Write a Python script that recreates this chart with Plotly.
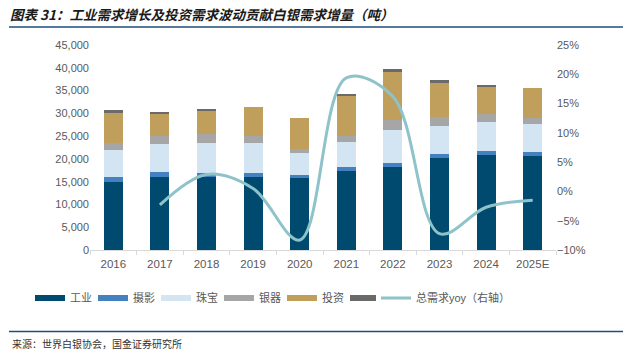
import plotly.graph_objects as go

years = ["2016", "2017", "2018", "2019", "2020", "2021", "2022", "2023", "2024", "2025E"]
industrial = [15000, 16100, 16000, 16000, 15700, 17300, 18200, 20200, 20900, 20700]
photography = [1000, 1100, 1000, 1000, 800, 900, 900, 900, 900, 800]
jewelry = [5900, 6100, 6400, 6400, 4700, 5600, 7300, 6200, 6400, 6100]
silverware = [1600, 1800, 2000, 1700, 1000, 1300, 2200, 1900, 1600, 1400]
investment = [6650, 4900, 5200, 6200, 6700, 8900, 10500, 7400, 6100, 6600]
hedging = [550, 300, 400, 0, 0, 300, 700, 700, 300, 0]
yoy_years = ["2017", "2018", "2019", "2020", "2021", "2022", "2023", "2024", "2025E"]
yoy = [-2.3, 2.9, 0.5, -8.3, 19.4, 16.2, -7.2, -2.7, -1.5]

series = [
    ("工业", industrial, "#004a6f"),
    ("摄影", photography, "#4381c1"),
    ("珠宝", jewelry, "#d3e4f3"),
    ("银器", silverware, "#a6a6a6"),
    ("投资", investment, "#c09e5b"),
    ("对冲", hedging, "#6a6a6a"),
]
line_color = "#8ec3ca"

W, H = 633, 353
L, R, T, B = 90, 556, 45, 250
def px(x):
    return (x - L) / (R - L)
def py(y):
    return (B - y) / (B - T)

fig = go.Figure()
for name, vals, col in series:
    fig.add_trace(go.Bar(x=years, y=vals, name=name, marker_color=col,
                         marker_line_width=0, showlegend=False))
    fig.add_trace(go.Scatter(x=[None], y=[None], mode="lines", name=name,
                             line=dict(color=col, width=6)))
fig.add_trace(go.Scatter(x=yoy_years, y=yoy, name="总需求yoy（右轴）", mode="lines",
                         yaxis="y2", legend="legend2",
                         line=dict(color=line_color, width=3, shape="spline", smoothing=1.0)))

tickfont = dict(family="Liberation Sans, Arial, Noto Sans CJK SC", size=11, color="#595959")
legfont = dict(family="Liberation Sans, Noto Sans CJK SC", size=11, color="#595959")
fig.update_layout(
    width=W, height=H,
    margin=dict(l=L, r=W - R, t=T, b=H - B),
    barmode="stack", bargap=0.59,
    plot_bgcolor="white", paper_bgcolor="white",
    font=dict(family="Liberation Sans, Noto Sans CJK SC", color="#595959"),
    xaxis=dict(type="category", showline=True, linecolor="#d9d9d9", linewidth=1,
               ticks="outside", tickson="boundaries", ticklen=4, tickcolor="#d9d9d9",
               tickfont=dict(tickfont, size=11.5), showgrid=False, ticklabelstandoff=3),
    yaxis=dict(range=[0, 45000], dtick=5000, tickformat=",", showgrid=False,
               zeroline=False, tickfont=tickfont, ticks="", ),
    yaxis2=dict(range=[-10, 25], dtick=5, ticksuffix="%", overlaying="y", side="right",
                showgrid=False, zeroline=False, tickfont=tickfont),
    legend=dict(orientation="h", x=px(30), xanchor="left", y=py(298), yanchor="middle",
                font=legfont, entrywidth=18, entrywidthmode="pixels", traceorder="normal"),
    legend2=dict(orientation="h", x=px(376), xanchor="left", y=py(298), yanchor="middle",
                 font=legfont),
    showlegend=True,
)

fig.add_annotation(text="<b><i>图表 31：工业需求增长及投资需求波动贡献白银需求增量（吨）</i></b>",
                   xref="paper", yref="paper", x=px(8), y=py(14), xanchor="left", yanchor="middle",
                   showarrow=False, font=dict(family="Noto Sans CJK SC", size=13.5, color="#1a1a1a"))
fig.add_annotation(text="来源：世界白银协会，国金证券研究所",
                   xref="paper", yref="paper", x=px(10), y=py(343), xanchor="left", yanchor="middle",
                   showarrow=False, font=dict(family="Noto Sans CJK SC", size=10, color="#333333"))
fig.add_shape(type="line", xref="paper", yref="paper", x0=px(9), x1=px(623), y0=py(27), y1=py(27),
              line=dict(color="#1f4e79", width=1.5))
fig.add_shape(type="line", xref="paper", yref="paper", x0=px(9), x1=px(623), y0=py(331.5), y1=py(331.5),
              line=dict(color="#1f4e79", width=1.5))

fig.write_html("out.html")
